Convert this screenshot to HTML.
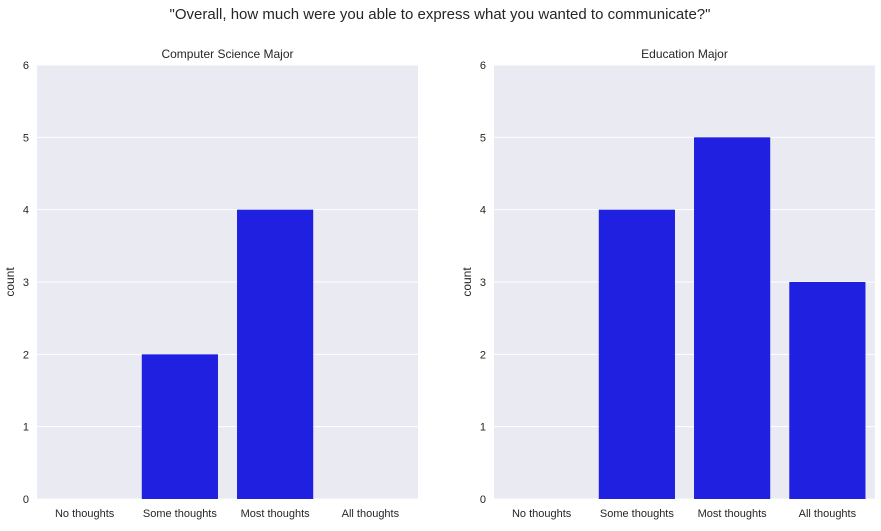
<!DOCTYPE html>
<html><head><meta charset="utf-8"><style>
body{margin:0;background:#fff;font-family:"Liberation Sans","DejaVu Sans",sans-serif;}
</style></head><body>
<svg id="chart" width="881" height="526" xmlns="http://www.w3.org/2000/svg" font-family="Liberation Sans, DejaVu Sans, sans-serif">
<text x="440" y="19" text-anchor="middle" font-size="15" fill="#262626">"Overall, how much were you able to express what you wanted to communicate?"</text>
</svg>
<script>
const categories=["No thoughts","Some thoughts","Most thoughts","All thoughts"];
const csValues=[0,2,4,0];
const eduValues=[0,4,5,3];
const yTicks=[0,1,2,3,4,5,6];
const panelTitles=["Computer Science Major","Education Major"];
const svg=document.getElementById('chart');
const NS="http://www.w3.org/2000/svg";
function mk(tag,attrs,parent){const e=document.createElementNS(NS,tag);for(const k in attrs)e.setAttribute(k,attrs[k]);(parent||svg).appendChild(e);return e;}
const plotTop=65,plotBottom=499,yMax=6;
function yScale(v){return plotBottom-(v/yMax)*(plotBottom-plotTop);}
function drawPanel(x0,x1,values,title,key){
  const g=mk('g',{});
  
  
  const bg=mk('rect',{x:x0,y:plotTop,width:x1-x0,height:plotBottom-plotTop,fill:'#eaeaf2'},g);
  
  
  const step=(x1-x0)/categories.length;
  function xScale(i){return x0+step*(i+0.5);}
  yTicks.forEach(t=>{
    const l=mk('line',{x1:x0,x2:x1,y1:yScale(t),y2:yScale(t),stroke:'#fff','stroke-width':1},g);
    
    
    const tx=mk('text',{x:x0-8,y:yScale(t)+4,'text-anchor':'end','font-size':11,fill:'#262626'},g);
    tx.textContent=t;
    
    
  });
  values.forEach((v,i)=>{
    const w=step*0.8;
    const r=mk('rect',{x:xScale(i)-w/2,y:yScale(v),width:w,height:plotBottom-yScale(v),fill:'#2020e0'},g);
    
    
  });
  categories.forEach((c,i)=>{
    const tx=mk('text',{x:xScale(i),y:517,'text-anchor':'middle','font-size':11,fill:'#262626'},g);
    tx.textContent=c;
    
    
  });
  const tt=mk('text',{x:(x0+x1)/2,y:58,'text-anchor':'middle','font-size':12,fill:'#262626'},g);
  tt.textContent=title;
  
  
  const yl=mk('text',{x:0,y:0,'text-anchor':'middle','font-size':12,fill:'#262626',transform:`translate(${x0-23},${(plotTop+plotBottom)/2}) rotate(-90)`},g);
  yl.textContent='count';
  
  
}
drawPanel(37,418,csValues,panelTitles[0],'cs');
drawPanel(494,875,eduValues,panelTitles[1],'edu');
</script>
</body></html>
